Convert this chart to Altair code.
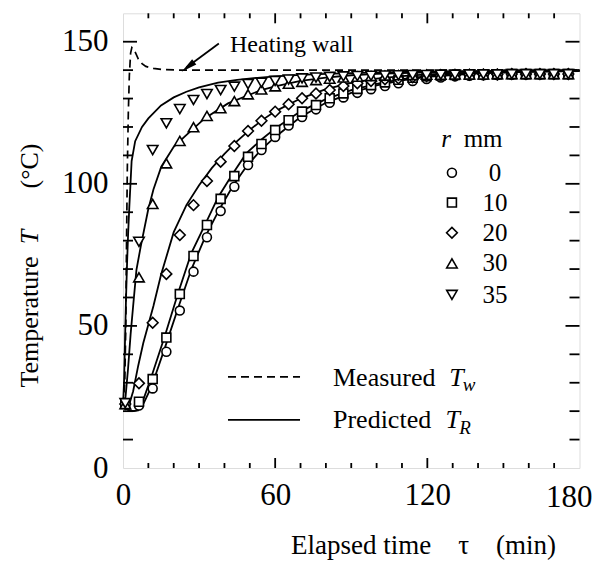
import altair as alt
import pandas as pd

FONT = "Liberation Serif"
NB = "\u00a0"

# ---------------- measured data (markers) ----------------
t_meas = [0.9, 6.3, 11.7, 17.1, 22.4, 27.8, 33.1, 38.5, 43.9, 49.3, 54.6, 60.0, 65.3,
          70.6, 76.1, 81.5, 86.9, 92.4, 97.8, 103.3, 108.6, 114.2, 119.7, 125.3, 130.9,
          136.6, 142.1, 147.6, 153.3, 158.9, 164.4, 169.9, 175.6]
T_r0 = [22.5, 22.0, 28.0, 40.9, 55.4, 69.1, 81.2, 90.4, 99.0, 106.6, 111.9, 116.5, 120.5,
        123.5, 126.2, 128.5, 130.4, 132.0, 133.3, 134.4, 135.4, 136.2, 136.9, 137.4, 137.8,
        138.0, 138.2, 138.3, 138.4, 138.5, 138.5, 138.6, 138.6]
T_r10 = [22.5, 23.3, 31.3, 45.9, 61.2, 74.6, 85.5, 94.7, 102.7, 109.5, 114.0, 118.9, 122.4,
         125.4, 127.7, 130.1, 131.8, 133.4, 134.7, 135.7, 136.6, 137.3, 137.9, 138.1, 138.3,
         138.4, 138.5, 138.5, 138.6, 138.6, 138.6, 138.6, 138.6]
T_r20 = [22.5, 29.8, 51.1, 68.3, 82.0, 92.5, 101.0, 107.8, 113.3, 118.6, 122.2, 125.4, 128.0,
         130.1, 131.8, 133.0, 134.4, 135.4, 136.2, 136.8, 137.1, 137.5, 137.9, 138.2, 138.3,
         138.4, 138.5, 138.5, 138.6, 138.6, 138.6, 138.6, 138.6]
T_r30 = [22.5, 67.1, 92.9, 107.2, 115.1, 119.9, 123.9, 126.6, 129.1, 131.5, 133.2, 134.3, 135.2,
         135.9, 136.5, 137.0, 137.4, 137.7, 137.9, 138.1, 138.2, 138.3, 138.4, 138.4, 138.5,
         138.5, 138.5, 138.6, 138.6, 138.6, 138.6, 138.6, 138.6]
T_r35 = [22.8, 79.6, 111.9, 121.3, 126.3, 129.5, 131.6, 133.0, 134.2, 135.1, 135.6, 136.2, 136.7,
         137.1, 137.4, 137.6, 137.8, 137.9, 138.0, 138.1, 138.2, 138.3, 138.3, 138.4, 138.4,
         138.5, 138.5, 138.5, 138.6, 138.6, 138.6, 138.6, 138.6]

r_labels = ["0", "10", "20", "30", "35"]
r_shapes = ["circle", "square", "diamond", "triangle-up", "triangle-down"]
r_sizes = [80, 80, 115, 110, 110]
meas_series = [T_r0, T_r10, T_r20, T_r30, T_r35]

# ---------------- measured wall temperature (dashed) ----------------
tw_t = [0, 0.7, 1.1, 1.4, 1.7, 2.1, 2.5, 3.0, 3.5, 4.2, 5.0, 6.0, 7.5, 9.0, 12, 16, 22, 40, 80, 120, 180]
tw_T = [22, 30, 50, 80, 105, 125, 138, 146, 148, 147.5, 146, 144, 142.3, 141.3, 140.6, 140.2,
        140, 140, 140, 140, 140]

# ---------------- predicted curves (solid) ----------------
p35_t = [0, 0.4, 0.8, 1.2, 1.6, 2.0, 2.5, 3.4, 4.8, 7.5, 10, 15, 20, 25, 30, 37.5, 45, 53,
         60, 70, 80, 100, 130, 180]
p35_T = [22, 30, 45, 60, 72, 82, 92, 108, 115, 120, 123, 127.6, 130.4, 132.4, 133.9, 135.6,
         136.6, 137.3, 137.8, 138.3, 138.7, 139.2, 139.6, 139.8]
p30_t = [0, 1, 2, 3, 4, 5.3, 7, 9.9, 12, 15.1, 20, 24.3, 32.2, 41.4, 54.5, 60, 70, 80, 90,
         100, 120, 150, 180]
p30_T = [21.5, 25, 35, 47, 57, 69.7, 78, 90.8, 98, 106, 113, 116.6, 123, 128.3, 133, 134.3,
         136.2, 137.4, 138.2, 138.7, 139.2, 139.6, 139.8]
p20_t = [0, 2, 4, 6, 8, 10, 12, 15, 20, 25, 30, 35, 40, 45, 50, 55, 60, 70, 80, 90, 100,
         110, 120, 140, 160, 180]
p20_T = [21.5, 21, 27, 36, 44, 50.5, 57, 68, 83, 92.5, 99.5, 105.5, 110.5, 115, 119, 122.5,
         125.5, 130, 133.3, 135.5, 137, 137.9, 138.5, 139.2, 139.6, 139.8]
p10_t = [0, 2, 4, 5.9, 8, 11.2, 16.4, 21.7, 26.9, 32.5, 37.5, 43.4, 48.6, 54.5, 60, 70, 80,
         90, 100, 110, 120, 140, 160, 180]
p10_T = [21.5, 20.5, 20, 20.4, 24, 32.1, 46.2, 61.5, 75.5, 85.9, 95.3, 103.7, 110.7, 115.5,
         119.5, 125.5, 129.8, 133, 135.2, 136.8, 137.9, 139, 139.5, 139.8]
p0_t = [0, 2, 4, 6, 8, 11.2, 16.4, 22, 27, 32.5, 38, 43.5, 49, 54.5, 60, 70, 80, 90, 100,
        110, 120, 140, 160, 180]
p0_T = [21.5, 20.5, 20, 20.3, 22.5, 28.5, 42, 57, 70, 81.5, 91, 99.5, 106.5, 112, 116.5,
        123.5, 128.5, 132, 134.6, 136.4, 137.6, 138.9, 139.4, 139.7]

# ---------------- legend / annotation data (data units) ----------------
leg_t = 129.7
leg_lbl_t = 146.7
leg_T = [103.9, 93.4, 82.8, 72.0, 60.9]
hdr = pd.DataFrame({"t": [127.4, 142.0], "T": [115.8, 115.8], "label": ["r", "mm"],
                    "style": ["italic", "normal"]})
line_leg = pd.DataFrame({"t": [41.4, 41.4], "t2": [69.8, 69.8], "T": [32.1, 16.9],
                         "kind": ["dash", "solid"]})
leg_words = pd.DataFrame({"t": [82.8, 82.8], "T": [29.0, 13.9], "label": ["Measured", "Predicted"]})
leg_T_main = pd.DataFrame({"t": [128.6, 127.2], "T": [29.0, 13.9], "label": ["T", "T"]})
leg_T_sub = pd.DataFrame({"t": [134.0, 132.6], "T": [27.0, 11.9], "label": ["w", "R"]})
heat = pd.DataFrame({"t": [42.2], "T": [148.8], "label": ["Heating wall"]})
arrow_line = pd.DataFrame({"t": [37.8], "T": [149.4], "t2": [25.0], "T2": [140.9]})
arrow_head = pd.DataFrame({"t": [25.6], "T": [141.2]})

x_label_vals = [0, 60, 120]
x_last_label = pd.DataFrame({"t": [180], "T": [0], "label": ["180"]})
x_minor = [v for v in range(10, 180, 10) if v % 60 != 0]
x_major = [60, 120]
y_minor = [v for v in range(10, 160, 10) if v % 50 != 0]
y_major = [50, 100, 150]

W, H = 456.5, 454.7
LABEL_FS = 31

xscale = alt.Scale(domain=[0, 180], nice=False, zero=False)
yscale = alt.Scale(domain=[0, 160], nice=False, zero=False)

x_title = "Elapsed time" + NB * 4 + "\u03c4" + NB * 4 + "(min)"
xaxis = alt.Axis(values=x_label_vals, tickSize=0, domain=False, grid=False,
                 labelFont=FONT, labelFontSize=LABEL_FS, labelColor="black", labelPadding=12,
                 labelFlush=False, labelOverlap=False,
                 title=x_title, titleFont=FONT, titleFontSize=27,
                 titleFontWeight="normal", titleColor="black", titleX=300, titleY=77,
                 titleAlign="center", titleBaseline="middle")
yaxis = alt.Axis(values=[0, 50, 100, 150], tickSize=0, domain=False, grid=False,
                 labelFont=FONT, labelFontSize=LABEL_FS, labelColor="black", labelPadding=15,
                 labelFlush=False, labelOverlap=False, title=None)


def X(f):
    return alt.X(f"{f}:Q", scale=xscale, axis=xaxis)


def Y(f):
    return alt.Y(f"{f}:Q", scale=yscale, axis=yaxis)


layers = []


def xticks(vals, length):
    d = pd.DataFrame({"v": vals})
    b = alt.Chart(d).mark_rule(color="black", strokeWidth=1.8).encode(
        x=X("v"), y=alt.value(H), y2=alt.value(H - length))
    t = alt.Chart(d).mark_rule(color="black", strokeWidth=1.8).encode(
        x=X("v"), y=alt.value(0), y2=alt.value(length))
    return [b, t]


def yticks(vals, length):
    d = pd.DataFrame({"v": vals})
    l = alt.Chart(d).mark_rule(color="black", strokeWidth=1.8).encode(
        y=Y("v"), x=alt.value(0), x2=alt.value(length))
    r = alt.Chart(d).mark_rule(color="black", strokeWidth=1.8).encode(
        y=Y("v"), x=alt.value(W), x2=alt.value(W - length))
    return [l, r]


layers += xticks(x_minor, 5) + xticks(x_major, 10) + yticks(y_minor, 10) + yticks(y_major, 14)

# last x tick label (kept inside the page edge)
layers.append(alt.Chart(x_last_label).mark_text(font=FONT, fontSize=LABEL_FS, color="black",
                                                align="right", baseline="middle", dx=13, dy=30).encode(
    x=X("t"), y=Y("T"), text="label:N"))

# dashed measured wall temperature
tw_df = pd.DataFrame({"t": tw_t, "T": tw_T, "o": range(len(tw_t))})
layers.append(alt.Chart(tw_df).mark_line(color="black", strokeWidth=1.7, strokeDash=[8, 5]).encode(
    x=X("t"), y=Y("T"), order="o:Q"))

# predicted curves
pred = []
for name, tt, TT in [("35", p35_t, p35_T), ("30", p30_t, p30_T), ("20", p20_t, p20_T),
                     ("10", p10_t, p10_T), ("0", p0_t, p0_T)]:
    for i, (a, b) in enumerate(zip(tt, TT)):
        pred.append({"r": name, "t": a, "T": b, "o": i})
pred_df = pd.DataFrame(pred)
layers.append(alt.Chart(pred_df).mark_line(color="black", strokeWidth=1.8).encode(
    x=X("t"), y=Y("T"), detail="r:N", order="o:Q"))

# measured markers
for lab, shp, sz, vals in zip(r_labels, r_shapes, r_sizes, meas_series):
    d = pd.DataFrame({"t": t_meas, "T": vals})
    layers.append(alt.Chart(d).mark_point(shape=shp, size=sz, filled=True, fill="white",
                                          stroke="black", strokeWidth=1.6, opacity=1).encode(
        x=X("t"), y=Y("T")))

# symbol legend
for lab, shp, sz, ly in zip(r_labels, r_shapes, r_sizes, leg_T):
    d = pd.DataFrame({"t": [leg_t], "T": [ly], "label": [lab], "tl": [leg_lbl_t]})
    layers.append(alt.Chart(d).mark_point(shape=shp, size=sz, filled=True, fill="white",
                                          stroke="black", strokeWidth=1.6, opacity=1).encode(
        x=X("t"), y=Y("T")))
    layers.append(alt.Chart(d).mark_text(font=FONT, fontSize=25, color="black", align="center",
                                         baseline="middle").encode(
        x=X("tl"), y=Y("T"), text="label:N"))
layers.append(alt.Chart(hdr[hdr["style"] == "italic"]).mark_text(
    font=FONT, fontSize=25, fontStyle="italic", color="black", align="center", baseline="middle").encode(
    x=X("t"), y=Y("T"), text="label:N"))
layers.append(alt.Chart(hdr[hdr["style"] == "normal"]).mark_text(
    font=FONT, fontSize=25, color="black", align="center", baseline="middle").encode(
    x=X("t"), y=Y("T"), text="label:N"))

# line legend
layers.append(alt.Chart(line_leg[line_leg["kind"] == "dash"]).mark_rule(
    color="black", strokeWidth=1.7, strokeDash=[8, 5]).encode(x=X("t"), x2="t2:Q", y=Y("T")))
layers.append(alt.Chart(line_leg[line_leg["kind"] == "solid"]).mark_rule(
    color="black", strokeWidth=1.8).encode(x=X("t"), x2="t2:Q", y=Y("T")))
layers.append(alt.Chart(leg_words).mark_text(font=FONT, fontSize=26, color="black", align="left",
                                             baseline="alphabetic").encode(
    x=X("t"), y=Y("T"), text="label:N"))
layers.append(alt.Chart(leg_T_main).mark_text(font=FONT, fontSize=26, fontStyle="italic", color="black",
                                              align="left", baseline="alphabetic").encode(
    x=X("t"), y=Y("T"), text="label:N"))
layers.append(alt.Chart(leg_T_sub).mark_text(font=FONT, fontSize=19, fontStyle="italic", color="black",
                                             align="left", baseline="alphabetic").encode(
    x=X("t"), y=Y("T"), text="label:N"))

# heating wall annotation
layers.append(alt.Chart(heat).mark_text(font=FONT, fontSize=24, color="black", align="left",
                                        baseline="middle").encode(
    x=X("t"), y=Y("T"), text="label:N"))
layers.append(alt.Chart(arrow_line).mark_rule(color="black", strokeWidth=1.8).encode(
    x=X("t"), x2="t2:Q", y=Y("T"), y2="T2:Q"))
layers.append(alt.Chart(arrow_head).mark_point(shape="M0,-1L0.42,1L-0.42,1Z", size=256, filled=True,
                                               color="black", opacity=1, angle=232, strokeWidth=0).encode(
    x=X("t"), y=Y("T")))

# y-axis title pieces (rotated)
yt = [("Temperature", "normal", 322), ("T", "italic", 237), ("(\u00b0C)", "normal", 166)]
for txt, sty, py in yt:
    d = pd.DataFrame({"label": [txt]})
    layers.append(alt.Chart(d).mark_text(font=FONT, fontSize=26, fontStyle=sty, color="black",
                                         align="center", baseline="middle", angle=270).encode(
        x=alt.value(-93), y=alt.value(py - 13.3), text="label:N"))

chart = alt.layer(*layers).properties(
    width=W, height=H,
    autosize=alt.AutoSizeParams(type="none"),
    padding={"left": 115, "top": 5.3, "right": 14, "bottom": 92},
).configure_view(stroke="black", strokeWidth=2).configure(background="white")

chart.save("out.html", embed_options={"renderer": "svg", "actions": False})
